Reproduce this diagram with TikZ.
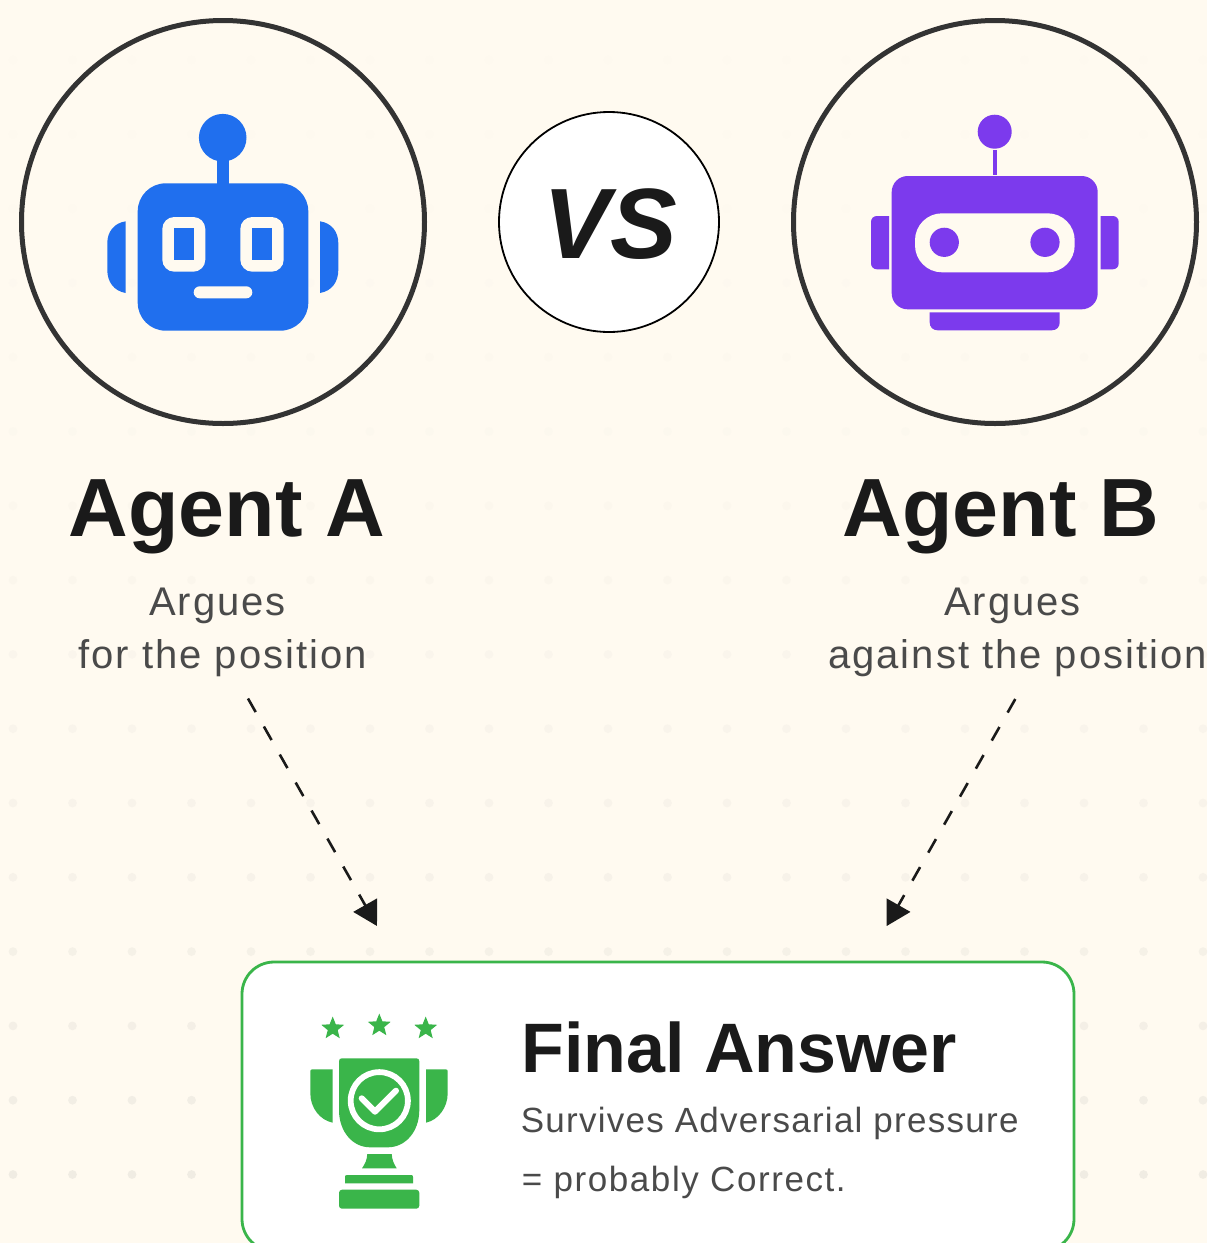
\documentclass[tikz,border=0pt]{standalone}
\usepackage{fontspec}
\usepackage{xcolor}
\usetikzlibrary{arrows.meta,shapes.geometric}
\setmainfont{Liberation Sans}
\newfontfamily\descfont[LetterSpace=5]{Liberation Sans}
\newfontfamily\answerfont[LetterSpace=4.5]{Liberation Sans}
\definecolor{pagecream}{HTML}{FFFAF0}
\definecolor{griddot}{HTML}{F0ECE3}
\definecolor{ringgrey}{HTML}{333333}
\definecolor{inkblack}{HTML}{1A1A1A}
\definecolor{descgrey}{HTML}{4A4A4A}
\definecolor{robotblue}{HTML}{206FEE}
\definecolor{robotpurple}{HTML}{7C3AED}
\definecolor{trophygreen}{HTML}{3AB54A}
\tikzset{
  agentring/.style={circle,draw=ringgrey,line width=2.5pt,minimum size=201.5pt,inner sep=0pt},
  vsring/.style={circle,draw=black,fill=white,line width=0.9pt,minimum size=110pt,inner sep=0pt,
    text=inkblack,font=\fontsize{50}{50}\selectfont\bfseries\itshape},
  agenttitle/.style={anchor=base,text=inkblack,inner sep=0pt,font=\fontsize{41.3}{41.3}\selectfont\bfseries},
  agentdesc/.style={anchor=base,align=center,text=descgrey,inner sep=0pt,font=\fontsize{20}{26.5}\selectfont\descfont},
  answerbox/.style={draw=trophygreen,fill=white,line width=1.4pt,rounded corners=16pt,
    minimum width=416pt,minimum height=144.5pt,inner sep=0pt},
  answertitle/.style={anchor=base west,text=inkblack,inner sep=0pt,font=\fontsize{35}{35}\selectfont\bfseries},
  answerline/.style={anchor=base west,text=descgrey,inner sep=0pt,font=\fontsize{17.5}{17.5}\selectfont\answerfont},
  trophystar/.style={star,star points=5,star point ratio=2.3,fill=trophygreen,inner sep=0pt,minimum size=12pt},
  dashedarrow/.style={draw=inkblack,line width=1.3pt,dash pattern=on 7.8pt off 8.3pt,
    -{Triangle[length=12pt,width=13.4pt]}}
}
\begin{document}
\begin{tikzpicture}[x=0.5pt,y=-0.5pt]
        \useasboundingbox (0,0) rectangle (1207,1243);
        \fill[pagecream] (0,0) rectangle (1207,1243);
        \clip (0,0) rectangle (1207,1243);
        % Faint dot grid
        \foreach \row in {0,...,15}
          \foreach \col in {0,...,20} {
            \pgfmathsetmacro{\dotop}{0.04+0.9*\row*\row/225}
            \fill[griddot,opacity=\dotop] (13+59.5*\col,60+74.3*\row) circle (2.2pt);
          }
        % Rings
        \node[agentring] (ringA) at (223,222) {};
        \node[agentring] (ringB) at (995,222) {};
        \node[vsring] (versus) at (609,222) {\kern1.5pt\raisebox{-0.25pt}[36pt][0pt]{VS}};
        % Robot A
        \fill[robotblue] (222.7,137.7) circle (11.9pt);
        \fill[robotblue] (217,150) rectangle (228.7,190);
        \fill[robotblue,rounded corners=14pt] (137.7,183.3) rectangle (308.3,330.7);
        \fill[robotblue] (125.7,221.3) .. controls (114,223) and (107.3,232) .. (107.3,243)
          -- (107.3,270) .. controls (107.3,282) and (114,291) .. (125.7,293) -- cycle;
        \fill[robotblue] (320,221.3) .. controls (331.7,223) and (338.3,232) .. (338.3,243)
          -- (338.3,270) .. controls (338.3,282) and (331.7,291) .. (320,293) -- cycle;
        \fill[pagecream,rounded corners=6pt] (162.3,217) rectangle (205.3,271.7);
        \fill[pagecream,rounded corners=6pt] (240.3,217) rectangle (283.7,271.7);
        \fill[robotblue] (174,228.3) rectangle (194,260.3);
        \fill[robotblue] (252,228.3) rectangle (272,260.3);
        \fill[pagecream,rounded corners=3pt] (193.7,286.3) rectangle (252.3,298.3);
        % Robot B
        \fill[robotpurple] (994.7,131.7) circle (8.5pt);
        \fill[robotpurple] (993,150) rectangle (997,175);
        \fill[robotpurple,rounded corners=8pt] (891.7,176) rectangle (1097.7,309.3);
        \fill[robotpurple] (889,216) -- (877,216) .. controls (873.5,216) and (871,218.5) .. (871,222)
          -- (871,263.3) .. controls (871,266.8) and (873.5,269.3) .. (877,269.3) -- (889,269.3) -- cycle;
        \fill[robotpurple] (1100.7,216) -- (1112.7,216) .. controls (1116.2,216) and (1118.7,218.5) .. (1118.7,222)
          -- (1118.7,263.3) .. controls (1118.7,266.8) and (1116.2,269.3) .. (1112.7,269.3) -- (1100.7,269.3) -- cycle;
        \fill[pagecream,rounded corners=13.5pt] (915,213.3) rectangle (1074.7,272.3);
        \fill[robotpurple] (944.3,242.3) circle (7.3pt);
        \fill[robotpurple] (1045,242.3) circle (7.3pt);
        \fill[robotpurple] (929.7,312.3) -- (1059.7,312.3) -- (1059.7,322.3)
          .. controls (1059.7,327) and (1056.7,330.3) .. (1051.7,330.3) -- (937.7,330.3)
          .. controls (932.7,330.3) and (929.7,327) .. (929.7,322.3) -- cycle;
        % Labels
        \node[agenttitle] (titleA) at (227,536) {Agent A};
        \node[agenttitle] (titleB) at (1001,536) {Agent B};
        \node[agentdesc] (descA) at (222.5,668.5) {Argues\kern5pt\\for the position};
        \node[agentdesc] (descB) at (1017.5,668.5) {Argues\kern5pt\\against the position};
        % Arrows
        \coordinate (arrowAfrom) at (248,698.5);
        \coordinate (arrowAto) at (377,926);
        \coordinate (arrowBfrom) at (1015.3,699);
        \coordinate (arrowBto) at (886.7,926);
        \draw[dashedarrow] (arrowAfrom) -- (arrowAto);
        \draw[dashedarrow] (arrowBfrom) -- (arrowBto);
        % Final answer
        \node[answerbox] (answer) at (658,1106.5) {};
        \node[answertitle] (answerhead) at (521,1072.5) {Final Answer};
        \node[answerline] (answerone) at (520.5,1132.5) {\addfontfeature{LetterSpace=3.6}Survives Adversarial pressure};
        \node[answerline] (answertwo) at (521.5,1191.5) {= probably Correct.};
        % Trophy
        \node[trophystar] (starleft) at (332.7,1028.5) {};
        \node[trophystar] (starmid) at (379.3,1025.5) {};
        \node[trophystar] (starright) at (425.7,1028.5) {};
        \fill[trophygreen] (342,1058.3) -- (416.3,1058.3) .. controls (418.3,1058.3) and (419.3,1059.3) .. (419.3,1061.3)
          -- (419.3,1110) .. controls (419.3,1132) and (405,1147.3) .. (388,1147.3) -- (370,1147.3)
          .. controls (353,1147.3) and (339,1132) .. (339,1110) -- (339,1061.3)
          .. controls (339,1059.3) and (340,1058.3) .. (342,1058.3) -- cycle;
        \fill[trophygreen] (332.7,1069.3) -- (312.3,1069.3) .. controls (311,1069.3) and (310.3,1070) .. (310.3,1071.3)
          -- (310.3,1093) .. controls (310.3,1108) and (320,1120) .. (332.7,1122.7) -- cycle;
        \fill[trophygreen] (426,1069.3) -- (445.7,1069.3) .. controls (447,1069.3) and (447.7,1070) .. (447.7,1071.3)
          -- (447.7,1093) .. controls (447.7,1108) and (438,1120) .. (426,1122.7) -- cycle;
        \draw[white,line width=2.9pt] (379.3,1100.7) circle (14.3pt);
        \draw[white,line width=3pt,line cap=round,line join=round] (361.7,1098.3) -- (375,1111.7) -- (396,1090.7);
        \fill[trophygreen] (367.3,1154) -- (391.7,1154) .. controls (392,1160) and (394,1164) .. (396.7,1168.3)
          -- (362,1168.3) .. controls (365,1164) and (367,1160) .. (367.3,1154) -- cycle;
        \fill[trophygreen] (345,1183.3) -- (345,1177) .. controls (345,1175.6) and (345.6,1175) .. (347,1175)
          -- (411,1175) .. controls (412.4,1175) and (413,1175.6) .. (413,1177) -- (413,1183.3) -- cycle;
        \fill[trophygreen,rounded corners=1.5pt] (339,1189.7) rectangle (419.3,1208.7);
\end{tikzpicture}
\end{document}
